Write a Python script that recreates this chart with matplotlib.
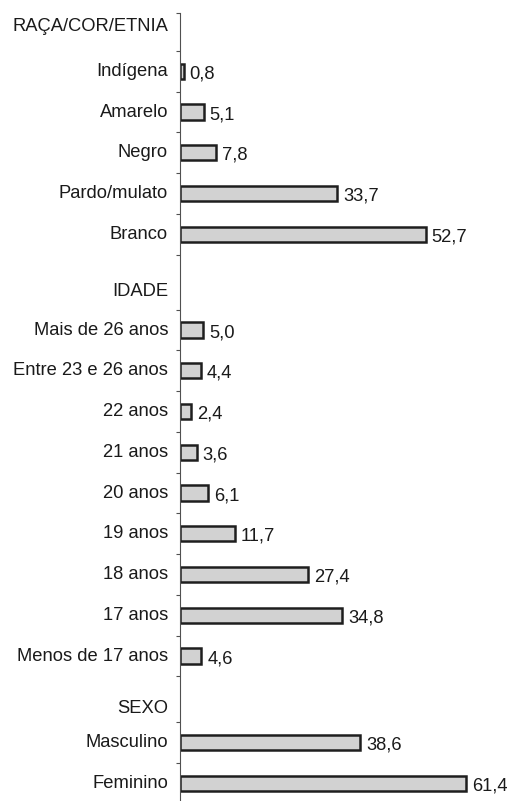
import matplotlib
matplotlib.use("Agg")
import matplotlib.pyplot as plt

# data, top to bottom
headers = ["RAÇA/COR/ETNIA", "IDADE", "SEXO"]

raca_labels = ["Indígena", "Amarelo", "Negro", "Pardo/mulato", "Branco"]
raca_values = [0.8, 5.1, 7.8, 33.7, 52.7]

idade_labels = [
    "Mais de 26 anos", "Entre 23 e 26 anos", "22 anos", "21 anos", "20 anos",
    "19 anos", "18 anos", "17 anos", "Menos de 17 anos",
]
idade_values = [5.0, 4.4, 2.4, 3.6, 6.1, 11.7, 27.4, 34.8, 4.6]

sexo_labels = ["Masculino", "Feminino"]
sexo_values = [38.6, 61.4]

sections = [
    (headers[0], raca_labels, raca_values),
    (headers[1], idade_labels, idade_values),
    (headers[2], sexo_labels, sexo_values),
]

# layout (in bar-row units): header block height and where its label sits
header_height = [0.93, 1.35, 1.13]
header_label_pos = [0.34, 0.91, 0.78]

W, H, DPI = 510, 801, 100
ROW_PX = 40.75
AX_LEFT_PX, AX_TOP_PX = 180, 13
PX_PER_UNIT = 4.66

FONT = ["Liberation Sans", "DejaVu Sans"]
TXT = "#1a1a1a"
FS = 13.2

plt.rcParams["font.family"] = FONT

fig = plt.figure(figsize=(W / DPI, H / DPI), dpi=DPI)

total_rows = sum(header_height) + sum(len(s[1]) for s in sections)
ax_h_px = total_rows * ROW_PX
ax = fig.add_axes([
    AX_LEFT_PX / W,
    (H - AX_TOP_PX - ax_h_px) / H,
    1 - AX_LEFT_PX / W,
    ax_h_px / H,
])

ys, vals, labs = [], [], []
header_ys = []
ticks = [0.0]
pos = 0.0
for (head, labels, values), hh, hl in zip(sections, header_height, header_label_pos):
    header_ys.append(pos + hl)
    pos += hh
    ticks.append(pos)
    for lab, v in zip(labels, values):
        ys.append(pos + 0.5)
        vals.append(v)
        labs.append(lab)
        pos += 1
        ticks.append(pos)

ax.barh(ys, vals, height=0.37, color="#d2d2d2", edgecolor="#1e1e1e", linewidth=1.8)

for y, v, lab in zip(ys, vals, labs):
    ax.annotate(f"{v:.1f}".replace(".", ","), xy=(v, y), xytext=(4.3, -1.8),
                textcoords="offset points", ha="left", va="center",
                fontsize=FS, color=TXT)
    ax.annotate(lab, xy=(0, y), xycoords=("axes fraction", "data"),
                xytext=(-8.6, 0), textcoords="offset points",
                ha="right", va="center", fontsize=FS, color=TXT)

for y, head in zip(header_ys, headers):
    ax.annotate(head, xy=(0, y), xycoords=("axes fraction", "data"),
                xytext=(-8.6, 0), textcoords="offset points",
                ha="right", va="center", fontsize=FS, color=TXT)

ax.set_xlim(0, (W - AX_LEFT_PX) / PX_PER_UNIT)
ax.set_ylim(total_rows, 0)
ax.set_yticks(sorted(set(round(t, 4) for t in ticks)))
ax.set_yticklabels([])
ax.set_xticks([])
for side in ["top", "right", "bottom"]:
    ax.spines[side].set_visible(False)
ax.spines["left"].set_color("#505050")
ax.spines["left"].set_linewidth(0.8)
ax.tick_params(axis="y", direction="out", length=3.2, width=0.8, color="#505050")
ax.patch.set_visible(False)

fig.savefig("out.png", dpi=DPI)
